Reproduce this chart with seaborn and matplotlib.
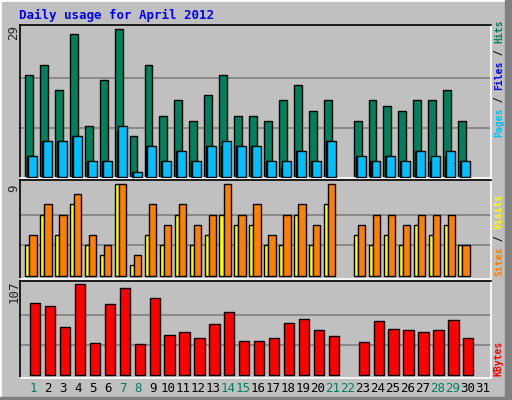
import matplotlib
matplotlib.use("Agg")
import matplotlib.pyplot as plt
import seaborn as sns
import pandas as pd
import numpy as np
from matplotlib.patches import Rectangle

sns.set_style("white")
plt.rcParams['font.family'] = ['DejaVu Sans Mono', 'DejaVu Sans']

days = list(range(1, 32))
hits   = [20,22,17,28,10,19,29,8,22,12,15,11,16,20,12,12,11,15,18,13,15,0,11,15,14,13,15,15,17,11,0]
files  = [4,7,7,8,3,3,10,1,6,3,5,3,6,7,6,6,3,3,5,3,7,0,4,3,4,3,5,4,5,3,0]
pages  = [4,7,7,8,3,3,9,1,6,3,5,3,6,6,6,6,3,2,5,3,7,0,4,3,4,3,5,3,4,3,0]
visits = [3,6,4,7,3,2,9,1,4,3,6,3,4,6,5,5,3,3,6,3,7,0,4,3,4,3,5,4,5,3,0]
sites  = [4,7,6,8,4,3,9,2,7,5,7,5,6,9,6,7,4,6,7,5,9,0,5,6,6,5,6,6,6,3,0]
kbytes = [85,81,57,107,38,84,103,37,91,48,51,44,60,75,40,40,44,62,66,53,46,0,39,64,54,53,51,53,65,44,0]
weekend = [1,7,8,14,15,21,22,28,29]

W, H = 512, 400
fig = plt.figure(figsize=(W/100, H/100), dpi=100)
fig.patch.set_facecolor('#C0C0C0')
fig.patches.append(Rectangle((0, 0), 1, 1, transform=fig.transFigure, fill=False, edgecolor='white', lw=2))
fig.patches.append(Rectangle((505/W, 0), 7/W, 1, transform=fig.transFigure, color='#808080'))
fig.patches.append(Rectangle((0, 0), 1, 3/H, transform=fig.transFigure, color='#808080'))

def ax_at(top, bottom, left=20, right=491):
    return fig.add_axes([left/W, 1-bottom/H, (right-left)/W, (bottom-top)/H])

x = np.array(days, dtype=float)
xlim = (0.133, 31.67)
ec = 'black'

def nz(vals):
    v = np.array(vals, dtype=float)
    m = v > 0
    return x[m], v[m]

def style(ax, ylim, grids):
    ax.set_facecolor('#C0C0C0')
    ax.set_xlim(*xlim); ax.set_ylim(*ylim)
    for g in grids:
        ax.axhline(g, color='#808080', lw=1.2, zorder=0)
    ax.set_xticks([]); ax.set_yticks([])
    for s in ax.spines.values():
        s.set_color('black'); s.set_linewidth(1.2)
    ax.spines['right'].set_color('white'); ax.spines['bottom'].set_color('white')

def bars(ax, vals, off, w, color, z):
    xx, vv = nz(vals)
    ax.bar(xx + off, vv, width=w, align='edge', color=color, edgecolor=ec, lw=1, zorder=z)

ax1 = ax_at(25, 178)
style(ax1, (-0.26, 29.85), [29/3, 58/3])
bars(ax1, hits, -0.53, 0.53, '#00805C', 2)
bars(ax1, pages, -0.4, 0.3, '#0000FF', 3)
bars(ax1, files, -0.33, 0.6, '#00C0FF', 4)

ax2 = ax_at(180, 279)
style(ax2, (-0.33, 9.39), [3, 6])
bars(ax2, visits, -0.51, 0.27, '#FFFF00', 2)
bars(ax2, sites, -0.24, 0.49, '#FF8000', 3)

ax3 = ax_at(281, 378)
kx, kv = nz(kbytes)
df = pd.DataFrame({'day': kx + 0.15, 'kbytes': kv})
sns.barplot(data=df, x='day', y='kbytes', native_scale=True, width=0.69,
            color='#FF0000', saturation=1, edgecolor=ec, linewidth=1, ax=ax3, zorder=2)
style(ax3, (-3, 110.9), [107/3, 214/3])
ax3.set_xlabel(''); ax3.set_ylabel('')

for d in days:
    fig.text((20 + (d - xlim[0]) * 15)/W, 1-389/H, str(d), ha='center', va='center', fontsize=9,
             color='#00805C' if d in weekend else 'black')

fig.text(19/W, 1-15/H, 'Daily usage for April 2012', color='#0000FF', fontsize=9, fontweight='bold',
         ha='left', va='center')
for txt, y in [('29', 33), ('9', 188), ('107', 292)]:
    fig.text(14/W, 1-y/H, txt, rotation=90, fontsize=9, ha='center', va='center')

FS = 7
ADV = 0.602 * FS * 100 / 72
def rlabel(parts, ybottom):
    y = ybottom
    for t, c in parts:
        fig.text(499/W, 1-y/H, t, rotation=90, fontsize=FS, color=c, ha='center', va='bottom',
                 fontweight='bold')
        y -= len(t) * ADV

rlabel([('Pages', '#00C0FF'), (' / ', 'black'), ('Files', '#0000FF'), (' / ', 'black'), ('Hits', '#00805C')], 137)
rlabel([('Sites', '#FF8000'), (' / ', 'black'), ('Visits', '#FFFF00')], 276)
rlabel([('KBytes', '#FF0000')], 376)

fig.savefig('out.png', dpi=100, facecolor=fig.get_facecolor())
